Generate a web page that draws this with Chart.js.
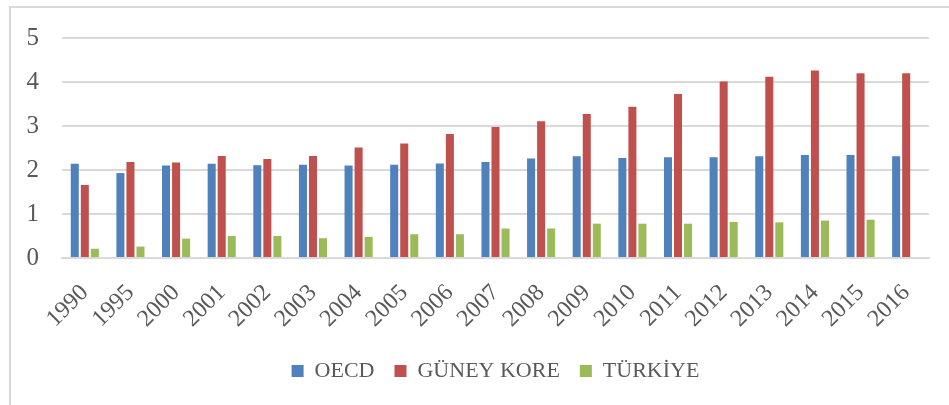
<!DOCTYPE html>
<html>
<head>
<meta charset="utf-8">
<script src="https://cdn.jsdelivr.net/npm/chart.js@4"></script>
<style>
  html, body { margin: 0; padding: 0; background: #ffffff; }
  #wrap { width: 949px; height: 405px; position: relative; }
</style>
</head>
<body>
<div id="wrap"><canvas id="c" width="949" height="405"></canvas></div>
<script>
const categories = ["1990","1995","2000","2001","2002","2003","2004","2005","2006","2007","2008","2009","2010","2011","2012","2013","2014","2015","2016"];
const oecd    = [2.14, 1.93, 2.10, 2.14, 2.11, 2.12, 2.10, 2.12, 2.15, 2.18, 2.26, 2.31, 2.27, 2.29, 2.29, 2.31, 2.34, 2.34, 2.31];
const guneyKore = [1.66, 2.18, 2.17, 2.32, 2.25, 2.32, 2.51, 2.60, 2.82, 2.98, 3.11, 3.27, 3.44, 3.73, 4.01, 4.12, 4.26, 4.20, 4.20];
const turkiye = [0.21, 0.26, 0.44, 0.50, 0.50, 0.45, 0.48, 0.54, 0.54, 0.67, 0.67, 0.78, 0.78, 0.78, 0.82, 0.81, 0.85, 0.87, null];
const seriesNames = ["OECD", "GÜNEY KORE", "TÜRKİYE"];
const yTicks = [0, 1, 2, 3, 4, 5];

const FONT = "'Liberation Serif', 'DejaVu Serif', serif";
const TEXT = "#595959";
const GRID = "#d9d9d9";

const frame = {
  id: 'frame',
  beforeDraw(chart) {
    const ctx = chart.ctx;
    ctx.save();
    ctx.strokeStyle = GRID;
    ctx.lineWidth = 2;
    ctx.strokeRect(10, 7, 960, 420);
    ctx.restore();
  }
};

new Chart(document.getElementById('c'), {
  type: 'bar',
  data: {
    labels: categories,
    datasets: [
      { label: seriesNames[0], data: oecd, backgroundColor: '#4F81BD' },
      { label: seriesNames[1], data: guneyKore, backgroundColor: '#C0504D' },
      { label: seriesNames[2], data: turkiye, backgroundColor: '#9BBB59' }
    ]
  },
  options: {
    responsive: false,
    animation: false,
    datasets: { bar: { categoryPercentage: 0.66, barPercentage: 0.8 } },
    layout: { padding: { left: 10, right: 20, top: 34, bottom: 13 } },
    plugins: {
      tooltip: { enabled: false },
      legend: {
        position: 'bottom',
        fullSize: false,
        labels: {
          boxWidth: 12, boxHeight: 12, padding: 20,
          color: TEXT,
          font: { family: FONT, size: 22 }
        }
      }
    },
    scales: {
      x: {
        grid: { display: false, drawTicks: false },
        border: { display: true, color: GRID, width: 2 },
        ticks: {
          color: TEXT, font: { family: FONT, size: 24 },
          minRotation: 45, maxRotation: 45, padding: 21, autoSkip: false
        },
        afterFit(s) { s.height = 82; }
      },
      y: {
        min: 0, max: 5,
        grid: { color: GRID, lineWidth: 2, drawTicks: false },
        border: { display: false },
        afterBuildTicks(s) { s.ticks = yTicks.map(v => ({ value: v })); },
        ticks: { color: TEXT, font: { family: FONT, size: 25 }, padding: 23 },
        afterFit(s) { s.width = 52; }
      }
    }
  },
  plugins: [frame]
});
</script>
</body>
</html>
